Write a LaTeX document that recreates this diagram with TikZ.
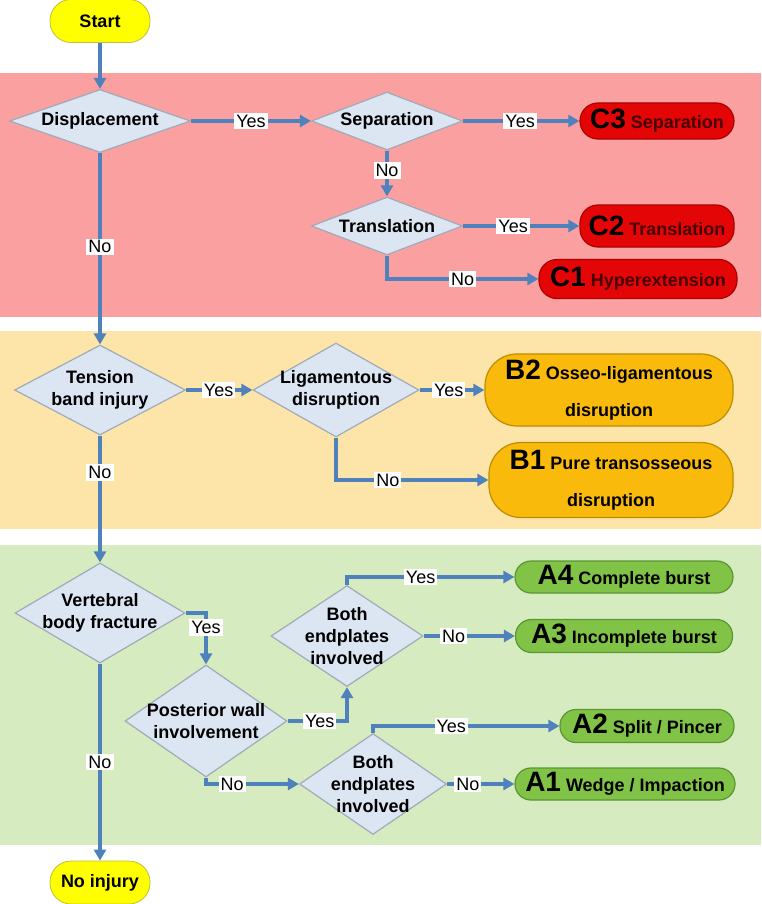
\documentclass[tikz,border=0pt]{standalone}
\usepackage{fontspec}
\setmainfont{Liberation Sans}
\usetikzlibrary{shapes.geometric,arrows.meta}

\definecolor{redband}{RGB}{250,160,160}
\definecolor{yellowband}{RGB}{253,229,170}
\definecolor{greenband}{RGB}{214,236,192}
\definecolor{diafill}{RGB}{220,230,242}
\definecolor{dialine}{RGB}{160,170,185}
\definecolor{flowblue}{RGB}{79,129,189}
\definecolor{termfill}{RGB}{255,255,0}
\definecolor{termline}{RGB}{190,190,60}
\definecolor{cfill}{RGB}{228,6,6}
\definecolor{cline}{RGB}{170,0,0}
\definecolor{cdark}{RGB}{70,0,0}
\definecolor{bfill}{RGB}{250,186,12}
\definecolor{bline}{RGB}{190,140,0}
\definecolor{afill}{RGB}{128,195,70}
\definecolor{aline}{RGB}{90,150,50}

\newcommand{\typecode}[1]{{\fontsize{14}{14}\selectfont\color{black}#1}}

\tikzset{
    question/.style 2 args={diamond, draw=dialine, fill=diafill, line width=0.6pt,
        inner sep=0pt, minimum width=#1, minimum height=#2},
    qtext/.style={font=\bfseries\fontsize{9}{11}\selectfont, align=center, inner sep=0pt},
    terminal/.style={rectangle, rounded corners=10.5pt, draw=termline, fill=termfill,
        minimum width=50pt, minimum height=21.5pt, inner sep=0pt,
        font=\bfseries\fontsize{9}{9}\selectfont},
    pill/.style={rectangle, inner sep=0pt, line width=0.6pt,
        font=\bfseries\fontsize{9}{9}\selectfont},
    classC/.style={pill, rounded corners=9pt, draw=cline, fill=cfill, text=cdark},
    classB/.style={pill, rounded corners=16pt, draw=bline, fill=bfill, align=center,
        font=\bfseries\fontsize{9}{18.5}\selectfont},
    classA/.style={pill, rounded corners=8pt, draw=aline, fill=afill},
    flow/.style={draw=flowblue, line width=1.6pt, -{Triangle[length=5.5pt,width=6pt]}},
    answer/.style={fill=white, inner sep=1pt, text=black, font=\fontsize{9}{9}\selectfont}
}

\begin{document}
\begin{tikzpicture}[x=0.5pt, y=-0.5pt]
    \useasboundingbox (0,0) rectangle (761,904);
    % bands
    \fill[redband] (0,73) rectangle (761,317);
    \fill[yellowband] (0,331) rectangle (761,529);
    \fill[greenband] (0,545) rectangle (761,845);

    % start and end
    \node[terminal] (start) at (100,21) {Start};
    \node[terminal] (noinj) at (100,882.5) {No injury};

    % type C
    \node[question={90.5pt}{31.5pt}] (disp) at (100,121) {};
    \node[qtext] at (disp) {Displacement};
    \node[question={75.5pt}{29pt}] (sep) at (387,121) {};
    \node[qtext] at (sep) {Separation};
    \node[question={75.5pt}{29pt}] (trans) at (387,226) {};
    \node[qtext] at (trans) {Translation};
    \node[classC, minimum width=77pt, minimum height=18pt] (c3) at (657,121)
        {\typecode{C3} Separation};
    \node[classC, minimum width=77pt, minimum height=21pt] (c2) at (657,226)
        {\typecode{C2} Translation};
    \node[classC, minimum width=99pt, minimum height=19.5pt] (c1) at (638,279)
        {\typecode{C1} Hyperextension};

    % type B
    \node[question={85.5pt}{45pt}] (tens) at (100,390) {};
    \node[qtext] at (tens) {Tension\\band injury};
    \node[question={83pt}{47pt}] (lig) at (336,390) {};
    \node[qtext] at (lig) {Ligamentous\\disruption};
    \node[classB, minimum width=124pt, minimum height=36pt] (b2) at (609,390)
        {\typecode{B2} Osseo-ligamentous\\disruption};
    \node[classB, minimum width=122pt, minimum height=37.5pt] (b1) at (611,480)
        {\typecode{B1} Pure transosseous\\disruption};

    % type A
    \node[question={85pt}{50pt}] (vert) at (100,613) {};
    \node[qtext] at (vert) {Vertebral\\body fracture};
    \node[question={81pt}{56pt}] (post) at (206,721) {};
    \node[qtext] at (post) {Posterior wall\\involvement};
    \node[question={76pt}{50.5pt}] (both1) at (347,636) {};
    \node[qtext] at (both1) {Both\\endplates\\involved};
    \node[question={73.5pt}{50.5pt}] (both2) at (373,784) {};
    \node[qtext] at (both2) {Both\\endplates\\involved};
    \node[classA, minimum width=109pt, minimum height=16pt] (a4) at (624,577)
        {\typecode{A4} Complete burst};
    \node[classA, minimum width=108.5pt, minimum height=16.5pt] (a3) at (624,636)
        {\typecode{A3} Incomplete burst};
    \node[classA, minimum width=87pt, minimum height=16.5pt] (a2) at (647,726)
        {\typecode{A2} Split / Pincer};
    \node[classA, minimum width=110pt, minimum height=16pt] (a1) at (625,784)
        {\typecode{A1} Wedge / Impaction};

    % connectors
    \draw[flow] (start) -- (disp);
    \draw[flow] (disp) -- node[answer]{Yes} (sep);
    \draw[flow] (sep) -- node[answer, pos=0.49]{Yes} (c3);
    \draw[flow] (sep) -- node[answer, pos=0.43]{No} (trans);
    \draw[flow] (trans) -- node[answer, pos=0.43]{Yes} (c2);
    \draw[flow] (trans) |- node[answer, pos=0.75]{No} (c1);
    \draw[flow] (disp) -- node[answer, pos=0.49]{No} (tens);
    \draw[flow] (tens) -- node[answer, pos=0.49]{Yes} (lig);
    \draw[flow] (lig) -- node[answer, pos=0.45]{Yes} (b2);
    \draw[flow] (lig) |- node[answer, pos=0.67]{No} (b1);
    \draw[flow] (tens) -- node[answer, pos=0.29]{No} (vert);
    \draw[flow] (vert) -| node[answer, pos=0.64]{Yes} (post);
    \draw[flow] (post) -| node[answer, pos=0.27]{Yes} (both1);
    \draw[flow] (both1) |- node[answer, pos=0.72]{Yes} (a4);
    \draw[flow] (both1) -- node[answer, pos=0.33]{No} (a3);
    \draw[flow] (post) |- node[answer, pos=0.64]{No} (both2);
    \draw[flow] (both2) |- node[answer, pos=0.71]{Yes} (a2);
    \draw[flow] (both2) -- node[answer, pos=0.31]{No} (a1);
    \draw[flow] (vert) -- node[answer]{No} (noinj);
\end{tikzpicture}
\end{document}
